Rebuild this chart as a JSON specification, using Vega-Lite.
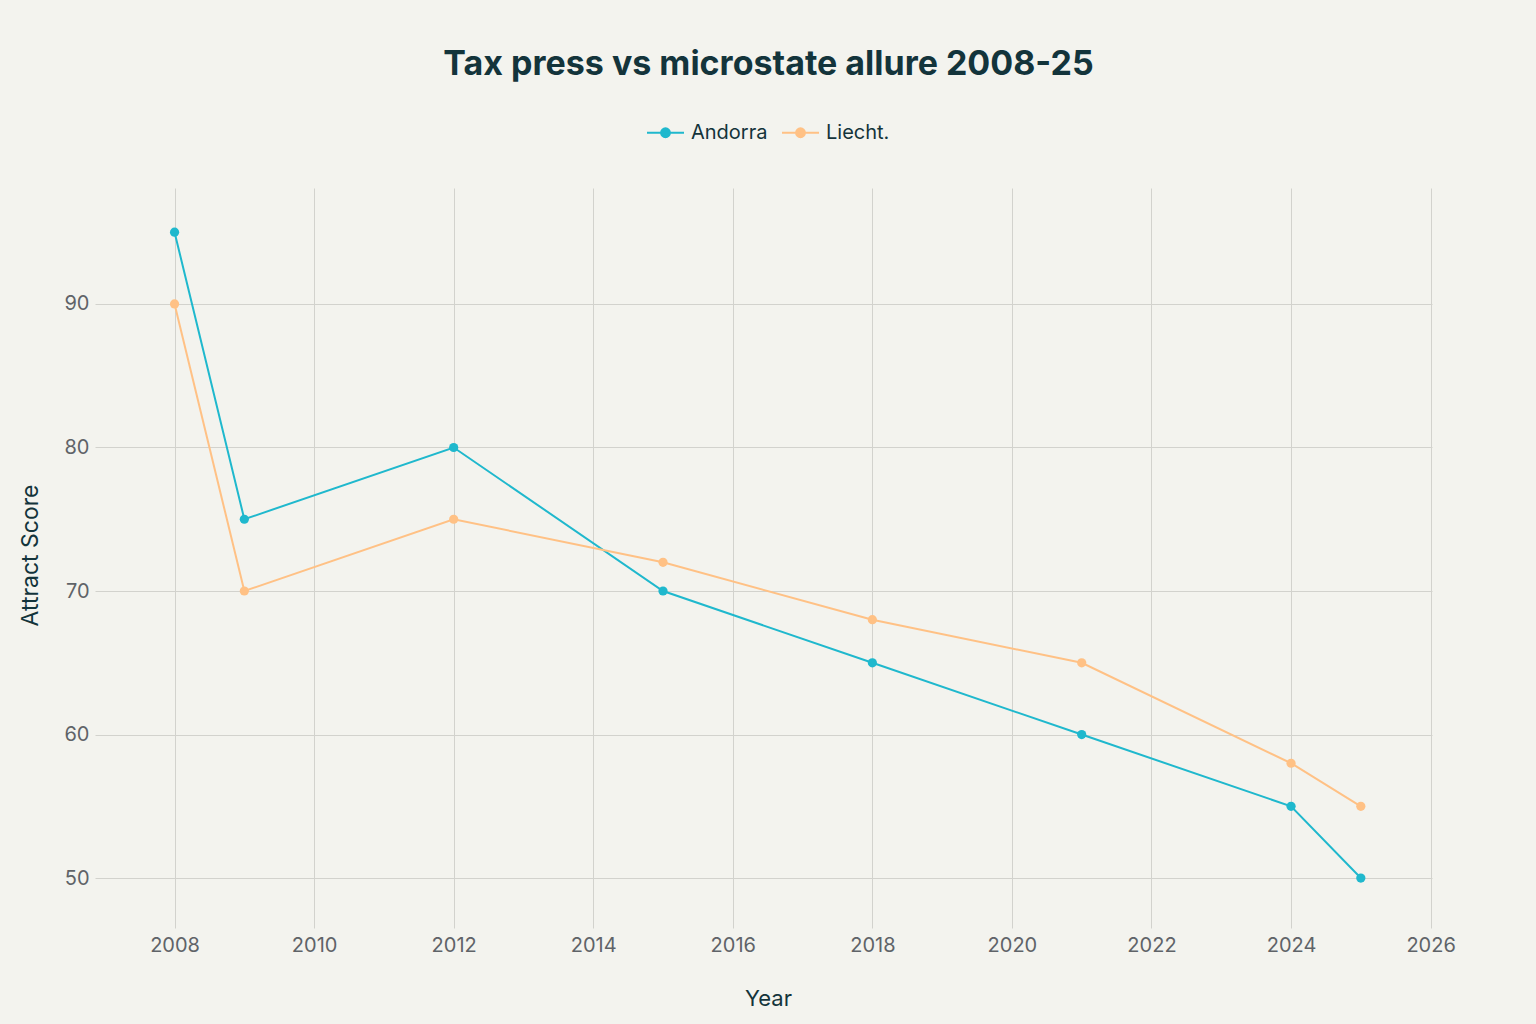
{
  "$schema": "https://vega.github.io/schema/vega-lite/v6.json",
  "width": 1337,
  "height": 740,
  "autosize": {"type": "none"},
  "padding": {"left": 95, "top": 188, "right": 104, "bottom": 96},
  "background": "#F3F3EE",
  "config": {
    "font": "Inter",
    "view": {"stroke": null},
    "axis": {"labelFont": "Inter", "titleFont": "Inter"}
  },
  "title": {
    "text": "Tax press vs microstate allure 2008-25",
    "anchor": "middle",
    "frame": "group",
    "fontSize": 34,
    "fontWeight": "bold",
    "color": "#13343B",
    "font": "Inter",
    "dx": 5,
    "dy": -27
  },
  "data": {
    "values": [
      {"Year": 2008, "Country": "Andorra", "Score": 95},
      {"Year": 2009, "Country": "Andorra", "Score": 75},
      {"Year": 2012, "Country": "Andorra", "Score": 80},
      {"Year": 2015, "Country": "Andorra", "Score": 70},
      {"Year": 2018, "Country": "Andorra", "Score": 65},
      {"Year": 2021, "Country": "Andorra", "Score": 60},
      {"Year": 2024, "Country": "Andorra", "Score": 55},
      {"Year": 2025, "Country": "Andorra", "Score": 50},
      {"Year": 2008, "Country": "Liecht.", "Score": 90},
      {"Year": 2009, "Country": "Liecht.", "Score": 70},
      {"Year": 2012, "Country": "Liecht.", "Score": 75},
      {"Year": 2015, "Country": "Liecht.", "Score": 72},
      {"Year": 2018, "Country": "Liecht.", "Score": 68},
      {"Year": 2021, "Country": "Liecht.", "Score": 65},
      {"Year": 2024, "Country": "Liecht.", "Score": 58},
      {"Year": 2025, "Country": "Liecht.", "Score": 55}
    ]
  },
  "mark": {"type": "line", "strokeWidth": 2, "point": {"filled": true, "size": 85, "opacity": 1}},
  "encoding": {
    "x": {
      "field": "Year",
      "type": "quantitative",
      "scale": {"domain": [2006.86, 2026.02], "nice": false, "zero": false},
      "axis": {
        "values": [2008, 2010, 2012, 2014, 2016, 2018, 2020, 2022, 2024, 2026],
        "format": "d",
        "title": "Year",
        "titleFontSize": 22,
        "titleFontWeight": "normal",
        "titleColor": "#13343B",
        "titleX": 673,
        "titleY": 70,
        "titleBaseline": "middle",
        "labelFontSize": 20,
        "labelColor": "#5F6368",
        "labelPadding": 7,
        "ticks": false,
        "domain": false,
        "grid": true,
        "gridColor": "#D2D2CD",
        "gridWidth": 1
      }
    },
    "y": {
      "field": "Score",
      "type": "quantitative",
      "scale": {"domain": [46.52, 98.08], "nice": false, "zero": false},
      "axis": {
        "values": [50, 60, 70, 80, 90],
        "title": "Attract Score",
        "titleFontSize": 23,
        "titleFontWeight": "normal",
        "titleColor": "#13343B",
        "titleX": -65,
        "titleY": 367,
        "titleBaseline": "middle",
        "labelFontSize": 20,
        "labelColor": "#5F6368",
        "labelPadding": 6,
        "ticks": false,
        "domain": false,
        "grid": true,
        "gridColor": "#D2D2CD",
        "gridWidth": 1
      }
    },
    "color": {
      "field": "Country",
      "type": "nominal",
      "scale": {"domain": ["Andorra", "Liecht."], "range": ["#1FB8CD", "#FFC185"]},
      "legend": {
        "title": null,
        "orient": "none",
        "direction": "horizontal",
        "legendX": 551,
        "legendY": -75,
        "padding": 0,
        "symbolType": "M-1,0L1,0M0.24,0A0.24,0.24 0 1,1 -0.24,0A0.24,0.24 0 1,1 0.24,0",
        "symbolSize": 1369,
        "symbolStrokeWidth": 2,
        "labelFontSize": 20,
        "labelColor": "#13343B",
        "labelFont": "Inter",
        "labelOffset": 6,
        "columnPadding": 10
      }
    }
  }
}
